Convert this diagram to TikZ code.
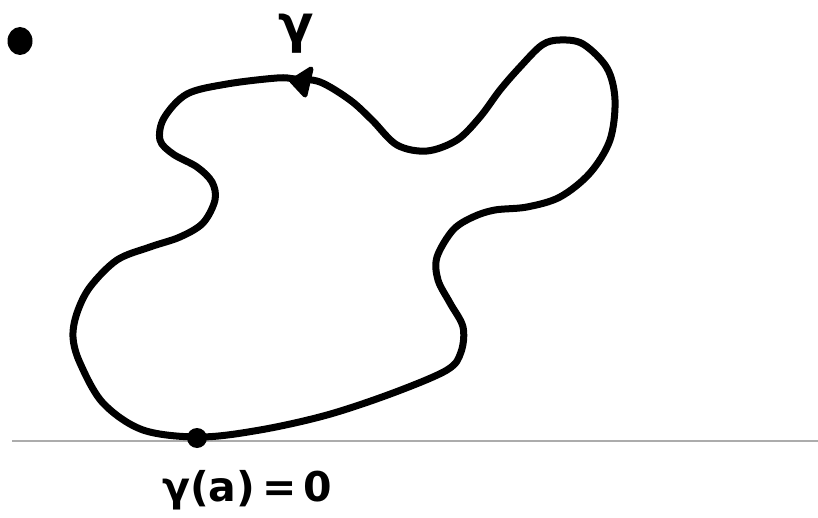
\documentclass[tikz,border=0pt]{standalone}
\usepackage{fontspec}
\newfontfamily\handfont{DejaVu Sans}
\begin{document}
\begin{tikzpicture}[x=1pt,y=-1pt,
  curve/.style={line width=7pt,line cap=round,line join=round},
  dotmark/.style={fill=black},
  lbl/.style={inner sep=0pt,font=\handfont\bfseries}]
\useasboundingbox (0,0) rectangle (818,518);
% axis line
\draw[gray!65,line width=2pt] (12,441) -- (818,441);
% closed curve
\draw[curve] plot[smooth cycle,tension=0.55] coordinates {
(200,437) (260,430) (327,415) (393,393) (447,370) (461,352) (463,327) (450,303)
(438,280) (437,257) (453,230) (473,217) (495,210) (527,207) (560,197) (590,173)
(610,140) (615,100) (607,68) (583,44) (560,40) (542,45) (520,67) (500,90) (480,117)
(457,140) (427,151) (397,145) (372,120) (350,100) (320,82) (295,79) (277,78)
(227,84) (187,94) (164,118) (160,140) (173,154) (197,167) (212,182) (215,200)
(203,223) (180,237) (150,247) (117,260) (90,287) (77,313) (73,337) (80,363)
(103,403) (143,430)};
% arrowhead
\coordinate (tip) at (292,81);
\coordinate (b1) at (311,69);
\coordinate (b2) at (305,95);
\filldraw[line width=5pt,line join=round] (tip) -- (b1) -- (b2) -- cycle;
% dots
\fill[dotmark] (20,41) ellipse (12.5 and 14);
\fill[dotmark] (197,438) circle (10);
% labels
\node[lbl,font=\handfont\bfseries\fontsize{52}{52}\selectfont] (gam) at (296,34) {γ};
\node[lbl,font=\handfont\bfseries\fontsize{41}{41}\selectfont] (cond) at (247,490) {γ(a)\,=\,0};
\end{tikzpicture}
\end{document}
